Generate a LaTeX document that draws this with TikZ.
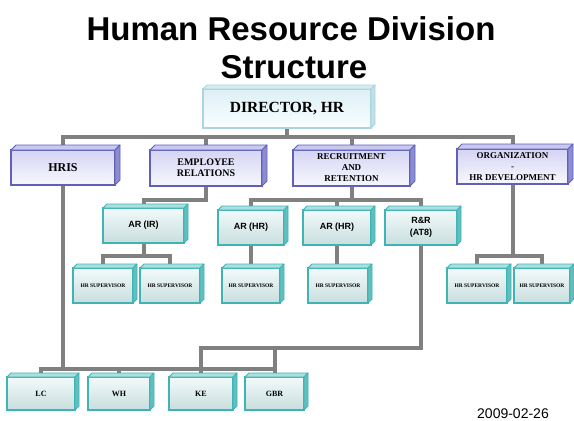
\documentclass[tikz,border=0pt]{standalone}
\usepackage{fontspec}
\setmainfont{Liberation Serif}
\newfontfamily\sansf{Liberation Sans}
\usetikzlibrary{backgrounds}
\definecolor{conncol}{RGB}{128,128,128}
\definecolor{pborder}{RGB}{96,96,186}
\definecolor{ptop}{RGB}{212,212,244}
\definecolor{pbot}{RGB}{248,248,255}
\definecolor{pext}{RGB}{200,200,240}
\definecolor{pside}{RGB}{140,140,210}
\definecolor{tborder}{RGB}{64,180,180}
\definecolor{ttop}{RGB}{242,250,250}
\definecolor{tbot}{RGB}{200,222,222}
\definecolor{texto}{RGB}{172,224,224}
\definecolor{tside}{RGB}{96,192,192}
\definecolor{dborder}{RGB}{172,212,222}
\definecolor{dtop}{RGB}{220,240,244}
\definecolor{dbot}{RGB}{250,254,255}
\definecolor{dext}{RGB}{212,236,240}
\definecolor{dside}{RGB}{192,224,232}
\tikzset{
  box/.style={rectangle, inner sep=0pt, outer sep=0pt, align=center, line width=1.1pt, text=black},
  pbox/.style={box, draw=pborder, top color=ptop, bottom color=pbot, font=\bfseries\fontsize{9}{11}\selectfont},
  tbox/.style={box, draw=tborder, top color=ttop, bottom color=tbot, minimum height=35},
  dbox/.style={box, draw=dborder, top color=dtop, bottom color=dbot, font=\bfseries\fontsize{15.5}{17}\selectfont},
  artext/.style={font=\sansf\bfseries\fontsize{9}{12}\selectfont},
  suptext/.style={font=\bfseries\fontsize{5.5}{6}\selectfont, minimum width=58},
  bottext/.style={font=\bfseries\fontsize{8}{9}\selectfont, minimum height=33},
  connline/.style={draw=conncol, line width=4pt},
}
\newcommand\cubeface[5]{%
  \filldraw[fill=#3,draw=#5,line width=0.8pt,line join=round] (#1.north west) -- ++(#2,-#2) -- ([shift={(#2,-#2)}]#1.north east) -- (#1.north east) -- cycle;
  \filldraw[fill=#4,draw=#5,line width=0.8pt,line join=round] (#1.north east) -- ++(#2,-#2) -- ([shift={(#2,-#2)}]#1.south east) -- (#1.south east) -- cycle;
}
\begin{document}
\begin{tikzpicture}[x=1pt,y=-1pt]
\useasboundingbox (0,0) rectangle (574,421);
% titles
\node[font=\sansf\bfseries\fontsize{33}{38}\selectfont, anchor=base] (t1) at (291,40) {Human Resource Division};
\node[font=\sansf\bfseries\fontsize{33}{38}\selectfont, anchor=base] (t2) at (294,78) {Structure};
\node[font=\sansf\fontsize{14}{16}\selectfont, anchor=base] (date) at (513,418) {2009-02-26};
% level 0
\node[dbox, minimum width=168, minimum height=39] (dir) at (287,108.5) {DIRECTOR, HR};
% level 1
\node[pbox, minimum width=104, minimum height=35, font=\bfseries\fontsize{12}{13}\selectfont] (hris) at (63,167.5) {HRIS};
\node[pbox, minimum width=112, minimum height=36, font=\bfseries\fontsize{10}{11}\selectfont] (er) at (206,168) {EMPLOYEE\\RELATIONS};
\node[pbox, minimum width=117, minimum height=36] (rr) at (351.5,168) {RECRUITMENT\\AND\\RETENTION};
\node[pbox, minimum width=111, minimum height=35] (org) at (512.5,166.5) {ORGANIZATION\\-\\HR DEVELOPMENT};
% level 2
\node[tbox, artext, minimum width=81] (arir) at (143.5,225.5) {AR (IR)};
\node[tbox, artext, minimum width=66] (arhr1) at (251,227.5) {AR (HR)};
\node[tbox, artext, minimum width=68] (arhr2) at (337,227.5) {AR (HR)};
\node[tbox, artext, minimum width=72] (rnr) at (421,227.5) {R\&R\\(AT8)};
% level 3
\node[tbox, suptext, minimum width=60] (s1) at (103,285.5) {HR SUPERVISOR};
\node[tbox, suptext, minimum width=60] (s2) at (170,285.5) {HR SUPERVISOR};
\node[tbox, suptext] (s3) at (251,285.5) {HR SUPERVISOR};
\node[tbox, suptext, minimum width=60] (s4) at (338,285.5) {HR SUPERVISOR};
\node[tbox, suptext, minimum width=60] (s5) at (477,285.5) {HR SUPERVISOR};
\node[tbox, suptext, minimum width=56] (s6) at (542,285.5) {HR SUPERVISOR};
% bottom
\node[tbox, bottext, minimum width=68] (lc) at (41,393.5) {LC};
\node[tbox, bottext, minimum width=62] (wh) at (119,393.5) {WH};
\node[tbox, bottext, minimum width=64] (ke) at (201,393.5) {KE};
\node[tbox, bottext, minimum width=59] (gbr) at (274.5,393.5) {GBR};
% 3D faces
\cubeface{dir}{4}{dext}{dside}{dborder}
\foreach \n in {hris,er,rr,org}{\cubeface{\n}{5}{pext}{pside}{pborder}}
\foreach \n in {arir,arhr1,arhr2,rnr,s1,s2,s3,s4,s5,s6,lc,wh,ke,gbr}{\cubeface{\n}{4}{texto}{tside}{tborder}}
% connectors
\coordinate (lv1) at (0,137);
\coordinate (lv2) at (0,200);
\coordinate (lv3) at (0,256);
\coordinate (lv4) at (0,348);
\coordinate (lv5) at (0,369);
\begin{pgfonlayer}{background}
\fill[white] (0,0) rectangle (574,421);
\draw[connline] (dir.south) -- (dir.south |- lv1);
\draw[connline] (hris.north) |- (lv1 -| org.north) -- (org.north);
\draw[connline] (er.north) -- (er.north |- lv1);
\draw[connline] (rr.north) -- (rr.north |- lv1);
\draw[connline] (hris.south) -- (hris.south |- lv5);
\draw[connline] (er.south) |- (lv2 -| arir.north) -- (arir.north);
\draw[connline] (rr.south) -- (rr.south |- lv2);
\draw[connline] (arhr1.north) |- (lv2 -| rnr.north) -- (rnr.north);
\draw[connline] (arhr2.north) -- (arhr2.north |- lv2);
\draw[connline] (arir.south) -- (arir.south |- lv3);
\draw[connline] (s1.north) |- (lv3 -| s2.north) -- (s2.north);
\draw[connline] (arhr1.south) -- (arhr1.south |- s3.north);
\draw[connline] (arhr2.south) -- (arhr2.south |- s4.north);
\draw[connline] (org.south) -- (org.south |- lv3);
\draw[connline] (s5.north) |- (lv3 -| s6.north) -- (s6.north);
\draw[connline] (rnr.south) |- (lv4 -| ke.north) -- (ke.north);
\draw[connline] (gbr.north) -- (gbr.north |- lv4);
\draw[connline] (lc.north) |- (lv5 -| gbr.north) -- (gbr.north);
\draw[connline] (wh.north) -- (wh.north |- lv5);
\end{pgfonlayer}
\end{tikzpicture}
\end{document}
